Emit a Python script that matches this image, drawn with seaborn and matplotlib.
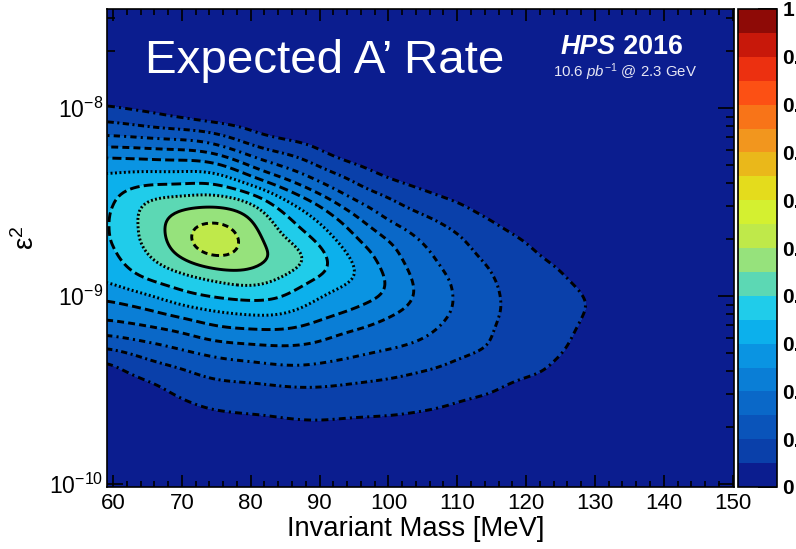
import numpy as np
import matplotlib
matplotlib.use("Agg")
import matplotlib.pyplot as plt
import matplotlib.tri as mtri
from matplotlib.colors import ListedColormap
from matplotlib.ticker import MultipleLocator, LogLocator, NullFormatter
import seaborn as sns

# ---- data -------------------------------------------------------------
# grid nodes: A' invariant mass [MeV] and log10(epsilon^2)
mass_mev = [59, 65, 70, 75, 80, 85, 90, 95, 100, 105, 110, 115, 120, 125, 130, 135, 140]
log10_eps2 = [-7.8, -7.9, -8.0, -8.1, -8.2, -8.3, -8.4, -8.5, -8.6, -8.7, -8.8,
              -8.9, -9.0, -9.1, -9.2, -9.3, -9.4, -9.5, -9.6, -9.7, -9.8, -9.9]

# normalised expected A' rate, one list per mass node (top to bottom in eps^2)
rate_59 = [0, 0.005, 0.059, 0.118, 0.194, 0.277, 0.316, 0.332, 0.339, 0.338, 0.327,
           0.307, 0.261, 0.213, 0.155, 0.082, 0.025, 0.005, 0, 0, 0, 0]
rate_65 = [0, 0, 0.039, 0.101, 0.187, 0.273, 0.344, 0.403, 0.418, 0.414, 0.393,
           0.356, 0.295, 0.233, 0.177, 0.118, 0.073, 0.031, 0.008, 0, 0, 0]
rate_70 = [0, 0, 0.021, 0.088, 0.18, 0.27, 0.347, 0.424, 0.476, 0.483, 0.45,
           0.388, 0.333, 0.261, 0.197, 0.142, 0.095, 0.066, 0.033, 0.012, 0, 0]
rate_75 = [0, 0, 0, 0.069, 0.156, 0.257, 0.346, 0.432, 0.498, 0.53, 0.496,
           0.416, 0.355, 0.288, 0.225, 0.164, 0.117, 0.082, 0.053, 0.02, 0.003, 0]
rate_80 = [0, 0, 0, 0.039, 0.103, 0.191, 0.29, 0.395, 0.455, 0.477, 0.47,
           0.428, 0.366, 0.301, 0.234, 0.175, 0.125, 0.087, 0.059, 0.027, 0.008, 0]
rate_85 = [0, 0, 0, 0.013, 0.072, 0.138, 0.221, 0.308, 0.366, 0.405, 0.43,
           0.395, 0.349, 0.296, 0.236, 0.183, 0.135, 0.093, 0.065, 0.035, 0.015, 0.003]
rate_90 = [0, 0, 0, 0, 0.039, 0.093, 0.155, 0.235, 0.295, 0.338, 0.368,
           0.348, 0.304, 0.263, 0.218, 0.175, 0.132, 0.095, 0.068, 0.039, 0.02, 0.005]
rate_95 = [0, 0, 0, 0, 0, 0.053, 0.102, 0.158, 0.218, 0.259, 0.292,
           0.3, 0.272, 0.238, 0.192, 0.158, 0.122, 0.09, 0.064, 0.035, 0.018, 0.004]
rate_100 = [0, 0, 0, 0, 0, 0.018, 0.064, 0.109, 0.151, 0.198, 0.225,
            0.243, 0.24, 0.205, 0.174, 0.145, 0.112, 0.085, 0.061, 0.032, 0.014, 0]
rate_105 = [0, 0, 0, 0, 0, 0, 0.035, 0.075, 0.112, 0.144, 0.165,
            0.18, 0.185, 0.175, 0.157, 0.129, 0.1, 0.077, 0.054, 0.023, 0.007, 0]
rate_110 = [0, 0, 0, 0, 0, 0, 0.014, 0.05, 0.081, 0.108, 0.125,
            0.14, 0.146, 0.142, 0.127, 0.107, 0.088, 0.066, 0.042, 0.02, 0.005, 0]
rate_115 = [0, 0, 0, 0, 0, 0, 0, 0.018, 0.05, 0.069, 0.088,
            0.102, 0.107, 0.106, 0.101, 0.093, 0.07, 0.053, 0.03, 0.012, 0, 0]
rate_120 = [0, 0, 0, 0, 0, 0, 0, 0, 0.021, 0.048, 0.062,
            0.074, 0.082, 0.082, 0.075, 0.066, 0.056, 0.037, 0.025, 0.01, 0, 0]
rate_125 = [0, 0, 0, 0, 0, 0, 0, 0, 0, 0.015, 0.039,
            0.054, 0.062, 0.062, 0.058, 0.052, 0.041, 0.028, 0.015, 0.004, 0, 0]
rate_130 = [0, 0, 0, 0, 0, 0, 0, 0, 0, 0, 0.015,
            0.03, 0.043, 0.043, 0.035, 0.026, 0.016, 0.006, 0, 0, 0, 0]
rate_135 = [0, 0, 0, 0, 0, 0, 0, 0, 0, 0, 0,
            0.008, 0.015, 0.015, 0.01, 0.004, 0, 0, 0, 0, 0, 0]
rate_140 = [0] * 22

rate_columns = [rate_59, rate_65, rate_70, rate_75, rate_80, rate_85, rate_90, rate_95,
                rate_100, rate_105, rate_110, rate_115, rate_120, rate_125, rate_130,
                rate_135, rate_140]

# contour lines and their dash patterns (points)
line_levels = [0.05, 0.10, 0.15, 0.20, 0.25, 0.30, 0.35, 0.40, 0.45, 0.50]
line_styles = [(0, (5.0, 3.0, 1.5, 3.0)),   # 0.05 dash-dot
               (0, (4.5, 2.5, 1.5, 2.5)),   # 0.10
               (0, (4.5, 3.0, 1.5, 3.0)),   # 0.15
               (0, (5.0, 3.0)),             # 0.20
               (0, (6.5, 3.0)),             # 0.25
               (0, (1.4, 1.8)),             # 0.30 dotted
               (0, (7.0, 3.0)),             # 0.35
               (0, (1.4, 1.6)),             # 0.40 dotted
               "solid",                     # 0.45
               (0, (4.5, 3.0))]             # 0.50

# 20-step palette, 0 -> 1
palette_hex = ["#0b1d8f", "#0a40aa", "#0a54ba", "#0a68c8", "#0a7ed6",
               "#0a94e2", "#0cb0ec", "#20ccea", "#5cd8b4", "#96e27c",
               "#bfe94a", "#d4f030", "#e4dc1c", "#eab81a", "#f2961e",
               "#f87418", "#fc5014", "#ec3010", "#c8180a", "#8e0a06"]
cbar_ticks = [0.0, 0.1, 0.2, 0.3, 0.4, 0.5, 0.6, 0.7, 0.8, 0.9, 1.0]
cbar_labels = ["0", "0.1", "0.2", "0.3", "0.4", "0.5", "0.6", "0.7", "0.8", "0.9", "1"]

# ---- style ------------------------------------------------------------
sns.set_style("ticks")
plt.rcParams.update({
    "font.family": ["Liberation Sans", "DejaVu Sans"],
    "mathtext.fontset": "custom",
    "mathtext.rm": "Liberation Sans",
    "mathtext.it": "Liberation Sans:italic",
    "mathtext.bf": "Liberation Sans:bold",
    "lines.scale_dashes": False,
    "axes.edgecolor": "black",
    "xtick.color": "black",
    "ytick.color": "black",
    "text.color": "black",
})

cmap = ListedColormap(sns.color_palette(palette_hex, n_colors=len(palette_hex)))
fill_levels = np.linspace(0.0, 1.0, 21)

W, H = 796, 549
fig = plt.figure(figsize=(W / 100, H / 100), dpi=100)
fig.patch.set_facecolor("white")

ax_left, ax_right, ax_top, ax_bottom = 107.5, 734, 9, 487
ax = fig.add_axes([ax_left / W, (H - ax_bottom) / H,
                   (ax_right - ax_left) / W, (ax_bottom - ax_top) / H])
cax = fig.add_axes([738 / W, (H - ax_bottom) / H, 39 / W, (ax_bottom - ax_top) / H])
ax.set_facecolor(palette_hex[0])

# ---- field: cubic interpolation of the node grid, lightly smoothed -----
M, L = np.meshgrid(np.array(mass_mev, float), np.array(log10_eps2, float), indexing="ij")
Z = np.array(rate_columns, float)
tri = mtri.Triangulation(M.ravel() / 5.0, L.ravel() * 10.0)
interp = mtri.CubicTriInterpolator(tri, Z.ravel(), kind="min_E")

m_fine = np.arange(mass_mev[0], mass_mev[-1] + 1e-9, 0.5)
l_fine = np.arange(log10_eps2[-1], log10_eps2[0] + 1e-9, 0.01)
MF, LF = np.meshgrid(m_fine, l_fine)
ZF = np.clip(np.ma.filled(interp(MF / 5.0, LF * 10.0), 0.0), 0.0, 1.0)


def gauss_smooth(a, sigma, axis):
    r = int(3 * sigma + 0.5)
    k = np.exp(-0.5 * (np.arange(-r, r + 1) / sigma) ** 2)
    k /= k.sum()
    pad = [(0, 0), (0, 0)]
    pad[axis] = (r, r)
    ap = np.pad(a, pad, mode="edge")
    return np.apply_along_axis(lambda v: np.convolve(v, k, mode="valid"), axis, ap)


ZF = gauss_smooth(ZF, 3.0, axis=1)   # 1.5 MeV
ZF = gauss_smooth(ZF, 2.5, axis=0)   # 0.025 decade

ax.set_yscale("log")
eps_fine = 10.0 ** l_fine
cf = ax.contourf(m_fine, eps_fine, ZF, levels=fill_levels, cmap=cmap, vmin=0, vmax=1)
for lev, ls in zip(line_levels, line_styles):
    ax.contour(m_fine, eps_fine, ZF, levels=[lev], colors="black",
               linewidths=2.1, linestyles=[ls])

ax.set_xlim(59.2, 150.2)
ax.set_ylim(10 ** -10.016, 10 ** -7.473)

# ---- axes -------------------------------------------------------------
ax.xaxis.set_major_locator(MultipleLocator(10))
ax.xaxis.set_minor_locator(MultipleLocator(2))
ax.yaxis.set_major_locator(LogLocator(base=10))
ax.yaxis.set_minor_locator(LogLocator(base=10, subs=np.arange(2, 10)))
ax.yaxis.set_minor_formatter(NullFormatter())
ax.tick_params(which="both", direction="in", top=True, right=True, width=1.2)
ax.tick_params(axis="x", which="major", length=8.5, labelsize=16, pad=4)
ax.tick_params(axis="x", which="minor", length=4.3)
ax.tick_params(axis="y", which="major", length=11.5, labelsize=16.5, pad=3)
ax.tick_params(axis="y", which="minor", length=5.8)
for s in ax.spines.values():
    s.set_linewidth(1.2)

# ---- colour bar -------------------------------------------------------
cb = fig.colorbar(cf, cax=cax, ticks=cbar_ticks)
cb.ax.set_yticklabels(cbar_labels, fontweight="bold")
cb.ax.tick_params(direction="in", length=14, width=1.3, labelsize=15, pad=4, colors="black")
cb.ax.minorticks_off()
cb.outline.set_linewidth(1.2)

# ---- labels -----------------------------------------------------------
fig.text(416 / W, 1 - 536 / H, "Invariant Mass [MeV]", fontsize=19.7,
         ha="center", va="baseline")
fig.text(26 / W, 1 - 238 / H, r"ε$^{2}$", fontsize=20, rotation=90,
         ha="center", va="center")

fig.text(145 / W, 1 - 73 / H, "Expected A’ Rate", fontsize=34.2, color="white",
         ha="left", va="baseline")
t_hps = fig.text(561 / W, 1 - 54 / H, "HPS", fontsize=19.3, fontweight="bold",
                 fontstyle="italic", color="white", ha="left", va="baseline")
ax.annotate(" 2016", xy=(1, 0), xycoords=t_hps, fontsize=19.3, fontweight="bold",
            color="white", ha="left", va="bottom")
fig.text(553 / W, 1 - 77 / H, r"$\mathit{10.6\ pb^{-1}}$ @ 2.3 GeV", fontsize=10.8,
         color="#e6e6f4", ha="left", va="baseline")

fig.savefig("out.png", dpi=100)
